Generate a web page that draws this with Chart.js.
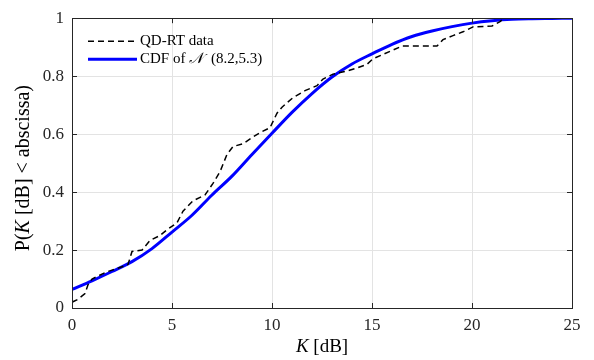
<!DOCTYPE html>
<html>
<head>
<meta charset="utf-8">
<script src="https://cdn.jsdelivr.net/npm/chart.js@4/dist/chart.umd.min.js"></script>
<style>
  html, body { margin: 0; padding: 0; background: #ffffff; }
  #wrap { width: 594px; height: 360px; }
</style>
</head>
<body>
<div id="wrap"><canvas id="c" width="594" height="360"></canvas></div>
<script>
const qdK = [0, 0.3, 0.65, 0.8, 1.0, 1.3, 1.75, 2.2, 2.8, 3.0, 3.5, 3.9, 4.4, 4.75, 5.25, 5.55, 6.05, 6.65, 7.05, 7.4, 7.75, 8.05, 8.55, 9.05, 9.4, 9.9, 10.25, 10.5, 11.05, 11.65, 12.25, 12.55, 13.05, 13.75, 14.25, 14.75, 15.05, 15.55, 16.05, 16.5, 18.25, 18.55, 19.05, 19.55, 20.05, 21.0, 21.4, 21.6];
const qdP = [0.02, 0.03, 0.05, 0.08, 0.10, 0.11, 0.125, 0.135, 0.15, 0.195, 0.20, 0.233, 0.25, 0.27, 0.294, 0.334, 0.37, 0.39, 0.43, 0.47, 0.53, 0.557, 0.567, 0.59, 0.605, 0.622, 0.672, 0.693, 0.726, 0.75, 0.767, 0.79, 0.807, 0.818, 0.828, 0.841, 0.86, 0.875, 0.89, 0.904, 0.904, 0.926, 0.94, 0.953, 0.97, 0.973, 0.988, 1.0];

// Fitted normal CDF curve
const cdfK = [0, 1, 2, 3, 4, 5, 6, 7, 8, 9, 10, 11, 12, 13, 14, 15, 16, 17, 18, 19, 20, 21, 22, 23, 24, 25];
const cdfP = [0.064, 0.094, 0.126, 0.16, 0.205, 0.262, 0.32, 0.39, 0.455, 0.53, 0.603, 0.675, 0.74, 0.797, 0.842, 0.877, 0.91, 0.937, 0.956, 0.971, 0.983, 0.991, 0.996, 0.998, 0.999, 1.0];

const xTicks = [0, 5, 10, 15, 20, 25];
const yTicks = [0, 0.2, 0.4, 0.6, 0.8, 1];
const seriesNames = ['QD-RT data', 'CDF of '];
const seriesNameMath = ['', '\u{1D4A9}'];
const seriesNameTail = ['', ' (8.2,5.3)'];
const xTitle = ['K', ' [dB]'];
const yTitle = ['P(', 'K', ' [dB] < abscissa)'];

const SERIF = '"Liberation Serif", "DejaVu Serif", serif';
const AXIS_COLOR = '#262626';

const frame = {
  id: 'frame',
  afterDraw(chart) {
    const { ctx, chartArea: a, scales } = chart;
    const xs = scales.x, ys = scales.y;
    ctx.save();
    // box
    ctx.strokeStyle = AXIS_COLOR;
    ctx.lineWidth = 1;
    ctx.strokeRect(Math.round(a.left) + 0.5, Math.round(a.top) + 0.5, Math.round(a.right - a.left), Math.round(a.bottom - a.top));
    // inward ticks
    const tl = 5;
    ctx.beginPath();
    xTicks.forEach(v => {
      const px = Math.round(xs.getPixelForValue(v)) + 0.5;
      ctx.moveTo(px, a.bottom); ctx.lineTo(px, a.bottom - tl);
      ctx.moveTo(px, a.top); ctx.lineTo(px, a.top + tl);
    });
    yTicks.forEach(v => {
      const py = Math.round(ys.getPixelForValue(v)) + 0.5;
      ctx.moveTo(a.left, py); ctx.lineTo(a.left + tl, py);
      ctx.moveTo(a.right, py); ctx.lineTo(a.right - tl, py);
    });
    ctx.stroke();

    // legend
    ctx.fillStyle = '#000';
    ctx.textBaseline = 'middle';
    const lx0 = a.left + 16, lx1 = a.left + 65, tx = a.left + 68;
    const ly = [a.top + 23, a.top + 41];
    ctx.strokeStyle = '#000';
    ctx.lineWidth = 1.5;
    ctx.setLineDash([6, 4]);
    ctx.beginPath(); ctx.moveTo(lx0, ly[0]); ctx.lineTo(lx1, ly[0]); ctx.stroke();
    ctx.setLineDash([]);
    ctx.strokeStyle = '#0000ff';
    ctx.lineWidth = 3;
    ctx.beginPath(); ctx.moveTo(lx0, ly[1]); ctx.lineTo(lx1, ly[1]); ctx.stroke();
    ctx.textAlign = 'left';
    for (let i = 0; i < 2; i++) {
      let x = tx;
      ctx.font = '15px ' + SERIF;
      ctx.fillText(seriesNames[i], x, ly[i]);
      x += ctx.measureText(seriesNames[i]).width;
      if (seriesNameMath[i]) {
        ctx.font = 'italic 15px "DejaVu Serif", serif';
        ctx.fillText(seriesNameMath[i], x, ly[i]);
        x += ctx.measureText(seriesNameMath[i]).width + 4;
        ctx.font = '15px ' + SERIF;
        ctx.fillText(seriesNameTail[i], x, ly[i]);
      }
    }

    // axis titles with italic K
    const parts = (arr, italicIdx) => arr.map((s, i) => ({ s, it: italicIdx.includes(i) }));
    const drawParts = (ps, cx, cy, size) => {
      let total = 0;
      ps.forEach(p => { ctx.font = (p.it ? 'italic ' : '') + size + 'px ' + SERIF; p.w = ctx.measureText(p.s).width; total += p.w; });
      let x = cx - total / 2;
      ps.forEach(p => { ctx.font = (p.it ? 'italic ' : '') + size + 'px ' + SERIF; ctx.fillText(p.s, x, cy); x += p.w; });
    };
    ctx.fillStyle = '#000';
    ctx.textAlign = 'left';
    ctx.textBaseline = 'middle';
    drawParts(parts(xTitle, [0]), (a.left + a.right) / 2, 347, 19);
    ctx.save();
    ctx.translate(24, (a.top + a.bottom) / 2 + 5);
    ctx.rotate(-Math.PI / 2);
    drawParts(parts(yTitle, [1]), 0, 0, 20);
    ctx.restore();
    ctx.restore();
  }
};

const chart = new Chart(document.getElementById('c'), {
  type: 'line',
  data: {
    datasets: [
      {
        label: seriesNames[0],
        data: qdK.map((k, i) => ({ x: k, y: qdP[i] })),
        borderColor: '#000000',
        borderWidth: 1.5,
        borderDash: [6, 4],
        pointRadius: 0,
        tension: 0,
        fill: false
      },
      {
        label: seriesNames[1] + seriesNameMath[1] + seriesNameTail[1],
        data: cdfK.map((k, i) => ({ x: k, y: cdfP[i] })),
        borderColor: '#0000ff',
        borderWidth: 3,
        pointRadius: 0,
        cubicInterpolationMode: 'monotone',
        fill: false
      }
    ]
  },
  options: {
    responsive: false,
    animation: false,
    devicePixelRatio: 1,
    layout: { padding: { left: 0, top: 10, right: 22, bottom: 0 } },
    plugins: { legend: { display: false }, tooltip: { enabled: false } },
    scales: {
      x: {
        type: 'linear',
        min: 0, max: 25,
        afterBuildTicks: (s) => { s.ticks = xTicks.map(v => ({ value: v })); },
        afterFit: (s) => { s.height = 52; },
        grid: { color: '#e3e3e3', drawTicks: false, lineWidth: 1 },
        border: { display: true, color: AXIS_COLOR, width: 1 },
        ticks: { font: { family: SERIF, size: 17 }, color: '#262626', padding: 7, maxRotation: 0,
                 callback: (v) => String(v) }
      },
      y: {
        type: 'linear',
        min: 0, max: 1,
        afterBuildTicks: (s) => { s.ticks = yTicks.map(v => ({ value: v })); },
        afterFit: (s) => { s.width = 72; },
        grid: { color: '#e3e3e3', drawTicks: false, lineWidth: 1 },
        border: { display: true, color: AXIS_COLOR, width: 1 },
        ticks: { font: { family: SERIF, size: 17 }, color: '#262626', padding: 8,
                 callback: (v) => String(Math.round(v * 10) / 10) }
      }
    }
  },
  plugins: [frame]
});
</script>
</body>
</html>
